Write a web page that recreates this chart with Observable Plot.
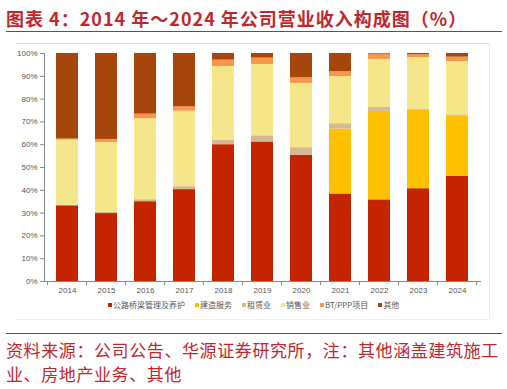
<!DOCTYPE html>
<html>
<head>
<meta charset="utf-8">
<script src="https://cdn.jsdelivr.net/npm/d3@7"></script>
<script src="https://cdn.jsdelivr.net/npm/@observablehq/plot@0.6"></script>
<style>
  html, body { margin: 0; padding: 0; background: #fff; }
  body { width: 507px; height: 389px; position: relative; overflow: hidden; font-family: "Noto Sans CJK SC", sans-serif; }
  #title { position: absolute; left: 6px; top: 5px; font-size: 18px; font-weight: bold; color: #c0272d; white-space: nowrap; letter-spacing: 1px; }
  .redline { position: absolute; left: 6px; width: 496px; height: 0; border-top: 1.5px solid #c0272d; }
  #box { position: absolute; left: 16px; top: 43px; width: 473px; height: 275px; border-top: 1px solid #dcdcdc; border-right: 1px solid #ececec; border-bottom: 1px solid #efefef; }
  #chart { position: absolute; left: 0; top: 43px; }
  #legend { position: absolute; left: 108px; top: 299px; display: flex; gap: 10px; font-size: 8px; color: #555; white-space: nowrap; align-items: center; }
  #legend span.sw { display: inline-block; width: 4px; height: 4px; margin-right: 1px; vertical-align: middle; position: relative; top: -1px; }
  #caption { position: absolute; left: 6px; top: 338px; font-size: 17px; line-height: 24px; color: #c0272d; width: 500px; letter-spacing: 0.6px; }
</style>
</head>
<body>
<div id="title">图表 4：2014 年～2024 年公司营业收入构成图（%）</div>
<div class="redline" style="top:31px"></div>
<div id="box"></div>
<div id="chart"></div>
<div id="legend"></div>
<div class="redline" style="top:333px"></div>
<div id="caption">资料来源：公司公告、华源证券研究所，注：其他涵盖建筑施工业、房地产业务、其他</div>
<script>
const years = ["2014","2015","2016","2017","2018","2019","2020","2021","2022","2023","2024"];
const seriesNames = ["公路桥梁管理及养护","建造服务","租赁业","销售业","BT/PPP项目","其他"];
const seriesColors = ["#c42400","#ffc000","#d7b894","#f5e68a","#f8964b","#a6450c"];
const road   = [33.2, 29.8, 35.0, 40.3, 60.0, 61.2, 55.4, 38.4, 35.8, 40.7, 46.2];
const constr = [0,    0,    0,    0,    0,    0,    0,    28.5, 38.8, 34.6, 26.5];
const rental = [0.3,  0.5,  0.9,  1.3,  2.0,  2.7,  3.3,  2.3,  1.7,  0.3,  0.4];
const sales  = [28.5, 30.7, 35.5, 33.1, 32.3, 31.3, 28.2, 20.7, 21.1, 22.6, 23.4];
const bt     = [0.5,  1.3,  2.0,  1.9,  2.8,  2.8,  2.4,  2.1,  2.3,  1.3,  1.9];
const other  = [37.5, 37.7, 26.6, 23.4, 2.9,  2.0,  10.7, 8.0,  0.3,  0.5,  1.6];
const yTicks = [0,10,20,30,40,50,60,70,80,90,100];

const seriesValues = [road, constr, rental, sales, bt, other];
const data = [];
years.forEach((yr, i) => {
  seriesNames.forEach((s, j) => data.push({year: yr, series: s, value: seriesValues[j][i]}));
});

const chart = Plot.plot({
  width: 507,
  height: 276,
  marginTop: 10,
  marginBottom: 38,
  marginLeft: 44,
  marginRight: 27,
  style: {fontFamily: "'Liberation Sans', Arial, sans-serif", fontSize: "8px", color: "#555", background: "transparent"},
  x: {domain: years, paddingInner: 0.44, paddingOuter: 0.22, label: null, tickSize: 0, tickPadding: 6},
  y: {domain: [0, 100], ticks: yTicks, tickFormat: d => d + "%", label: null, tickSize: 4, tickPadding: 3},
  color: {domain: seriesNames, range: seriesColors},
  marks: [
    Plot.barY(data, Plot.stackY({order: seriesNames}, {x: "year", y: "value", fill: "series", z: "series"})),
    Plot.axisY({ticks: yTicks, tickFormat: d => d + "%", tickSize: 4, tickPadding: 3, stroke: "#888", label: null}),
    Plot.axisX({tickSize: 0, tickPadding: 6, label: null}),
    Plot.frame({anchor: "left", stroke: "#888"}),
    Plot.frame({anchor: "bottom", stroke: "#888"})
  ]
});
document.getElementById("chart").appendChild(chart);

// x-axis ticks at band boundaries, positioned with the plot's own x scale
const xs = chart.scale("x");
const yScale = chart.scale("y");
const y0 = yScale.apply(0);
const gap = xs.step - xs.bandwidth;
const bounds = years.map(yr => xs.apply(yr) - gap / 2);
bounds.push(xs.apply(years[years.length - 1]) + xs.bandwidth + gap / 2);
const svg = d3.select(chart.tagName.toLowerCase() === "svg" ? chart : chart.querySelector("svg"));
svg.append("g").selectAll("line").data(bounds).join("line")
  .attr("x1", d => d).attr("x2", d => d)
  .attr("y1", y0).attr("y2", y0 + 4)
  .attr("stroke", "#888");

// legend from the same arrays
const legend = document.getElementById("legend");
seriesNames.forEach((s, j) => {
  const item = document.createElement("span");
  const sw = document.createElement("span");
  sw.className = "sw";
  sw.style.background = seriesColors[j];
  item.appendChild(sw);
  item.appendChild(document.createTextNode(s));
  legend.appendChild(item);
});
</script>
</body>
</html>
